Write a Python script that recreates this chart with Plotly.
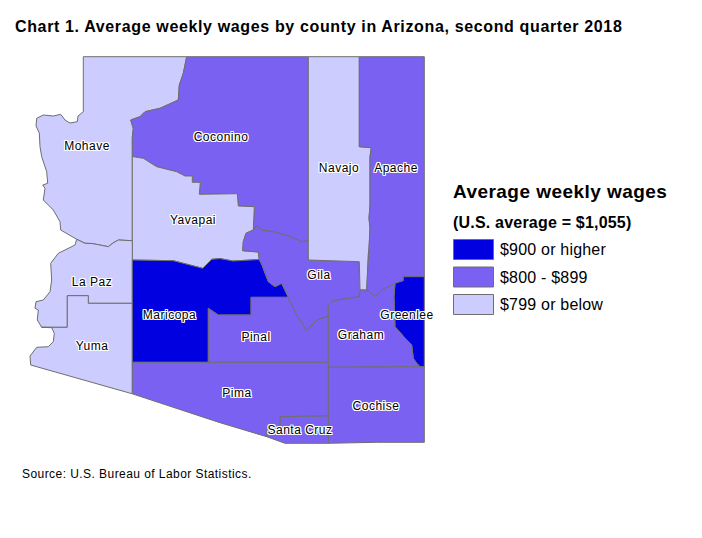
import plotly.graph_objects as go

mohave_lapaz = [(76.7,239.3),(78.3,240),(85,243.3),(92,243.5),(100,245),(108.3,246.7),(113,243),(118.3,240),(132.3,240.7)]
coconino_west = [(132.3,156.5),(132.3,137.3),(133.3,128.3),(130.7,120),(140,116.7),(145,111.7),(160,108.3),(170,104),(178.3,100),(179.3,85),(183.3,73.3),(186.7,56.7)]
yavapai_north = [(132.3,156.5),(143.3,158.3),(156.7,166.7),(176.7,171.7),(185,176),(192.3,176),(192.3,182.3),(200.3,182.3),(199.3,194.3),(237.3,193.7),(238.3,206),(254.3,206.7),(253.3,230)]
yavapai_gila = [(253.3,230),(246,233.3),(243.3,241.7),(242.7,250.7),(258.3,252),(259.3,259.5)]
yavapai_maricopa = [(132.3,260),(173.3,260.7),(202.7,268.3),(211.7,259.3),(220,258.6),(233,261),(259.3,259.5)]
coconino_gila = [(253.3,230),(256.7,226),(261.7,230),(273.3,231.7),(288.3,236),(301.7,241.7),(308.3,240.7)]
gila_maricopa = [(259.3,259.5),(262,265),(265,273.3),(268.3,281.7),(275,286.7),(281.7,283.3),(288.3,297.3)]
gila_pinal = [(288.3,297.3),(295,311.7),(306.7,330.7),(316.7,320),(328.3,316)]
gila_graham = [(328.3,316),(328.3,305),(333.3,300.7),(348.3,298.3),(359.3,296.7)]
navajo_east = [(359.3,146.7),(371.3,147.7),(370,156.7),(370,205),(369,218.3),(370,228.3),(369,250),(368.3,253.3),(366.7,290)]
apache_graham = [(366.7,290),(375,296.7),(381.7,290),(395,283.3)]
greenlee_graham = [(395,283.3),(394,296.7),(395,326.7),(406.7,340),(411.7,345),(413.3,358.3),(416.7,363.3),(420,366.7)]

mohave = [(83.3,56.7),(83.3,111.7),(78,116),(77.3,121.7),(70,123),(65,120),(60.7,114.3),(53.3,116),(43.3,115),(36.7,118.3),(36,126),(39.3,133),(40,146.7),(41.7,156.7),(46.7,171.7),(47.7,183.3),(42.7,185),(45,188.3),(43.3,200),(53.3,210),(60,221.7),(60.7,230)] + mohave_lapaz + coconino_west
coconino = coconino_west + [(308.3,56.7),(308.3,240.7)] + coconino_gila[::-1] + yavapai_north[::-1]
yavapai = yavapai_north + yavapai_gila + yavapai_maricopa[::-1]
lapaz = mohave_lapaz[::-1] + [(75,245),(58.3,253.3),(50.7,263.3),(51.7,280),(50,291.7),(43.3,300),(36,301.7),(35,308.3),(38.3,310),(37.3,320),(41.7,327.3),(67.3,327.3),(67.3,295.7),(88.3,295.7),(88.3,303.3),(132.3,303.3)]
yuma = [(41.7,327.3),(51.7,327.7),(54.3,333.3),(53.3,341.7),(48.3,346.7),(36.7,347.3),(30,356),(30.7,365),(132.3,393.8),(132.3,303.3),(88.3,303.3),(88.3,295.7),(67.3,295.7),(67.3,327.3)]
maricopa = yavapai_maricopa + gila_maricopa + [(251,297.3),(251,315),(218.3,315),(208.3,308.3),(208.3,362.3),(132.3,362.3)]
pinal = gila_pinal + [(328.3,362.3),(208.3,362.3),(208.3,308.3),(218.3,315),(251,315),(251,297.3)]
gila = yavapai_gila + gila_maricopa + gila_pinal + gila_graham + [(359.3,261.7),(308.3,260),(308.3,240.7)] + coconino_gila[::-1]
navajo = [(308.3,56.7),(359.3,56.7)] + navajo_east + [(360,290),(359.3,261.7),(308.3,260)]
apache = [(359.3,56.7),(424.3,56.7),(424.3,276.7),(403.3,276.7),(403.3,280.7)] + apache_graham[::-1] + navajo_east[::-1]
greenlee = [(403.3,276.7),(424.3,276.7),(424.3,366.7)] + greenlee_graham[::-1] + [(403.3,280.7)]
graham = gila_graham[::-1] + [(328.3,367.3),(420,366.7)] + greenlee_graham[::-1] + apache_graham[::-1] + [(360,290)]
cochise = [(328.3,367.3),(424.3,366.7),(424.3,442.3),(376.7,442.3),(328.3,443.3)]
santa_cruz = [(280,416.7),(328.3,415.7),(328.3,443.3),(285,443.3),(266.7,436.7),(266.7,429),(280,426)]
pima = [(132.3,362.3),(328.3,362.3),(328.3,415.7),(280,416.7),(280,426),(266.7,429),(266.7,436.7),(220,422.7),(132.3,393.8)]

county_names = ["Mohave","Coconino","Yavapai","La Paz","Yuma","Maricopa","Pinal","Gila","Navajo","Apache","Greenlee","Graham","Cochise","Santa Cruz","Pima"]
county_shapes = [mohave,coconino,yavapai,lapaz,yuma,maricopa,pinal,gila,navajo,apache,greenlee,graham,cochise,santa_cruz,pima]
county_class = [2,1,2,2,2,0,1,1,2,1,0,1,1,1,1]
label_x = [87,221,193,92,92,169.5,256,319,339,396,407,361,376,300,237]
label_y = [147,138,220.5,282.5,347,316,337.5,276,168.5,168.5,316,336,407,430.5,393.5]

class_names = ["$900 or higher","$800 - $899","$799 or below"]
class_colors = ["#0000E1","#7B61F2","#CCCCFF"]
border = "#6E6E6E"
halo = "1px 0 0 #fff,-1px 0 0 #fff,0 1px 0 #fff,0 -1px 0 #fff,1px 1px 0 #fff,-1px -1px 0 #fff,1px -1px 0 #fff,-1px 1px 0 #fff"


def spaced(text, px):
    return '<span style="letter-spacing:%spx">%s</span>' % (px, text)


fig = go.Figure()
for name, shape, c in zip(county_names, county_shapes, county_class):
    fig.add_trace(go.Scatter(x=[p[0] for p in shape]+[shape[0][0]], y=[p[1] for p in shape]+[shape[0][1]],
                             mode="lines", fill="toself", fillcolor=class_colors[c],
                             line=dict(color=border, width=1), name=name, hoverinfo="name"))

fig.add_trace(go.Scatter(x=label_x, y=label_y, mode="text", text=[spaced(n, 0.5) for n in county_names],
                         textfont=dict(family="Liberation Sans", size=12, color="black", shadow=halo),
                         hoverinfo="skip"))

# legend is drawn by hand, the swatches are wider than plotly's own
swatch_top = [239.5, 267, 294.5]
for name, color, top in zip(class_names, class_colors, swatch_top):
    fig.add_shape(type="rect", x0=453.5, x1=493.5, y0=top, y1=top+20, fillcolor=color,
                  line=dict(color=border, width=1))
    fig.add_annotation(x=498, y=top+10, text=spaced(name, 0.2), showarrow=False, xanchor="left",
                       font=dict(family="Liberation Sans", size=16, color="black"))

fig.add_annotation(x=13, y=26, text="<b>" + spaced("Chart 1. Average weekly wages by county in Arizona, second quarter 2018", 0.64) + "</b>",
                   showarrow=False, xanchor="left", font=dict(family="Liberation Sans", size=16, color="black"))
fig.add_annotation(x=451, y=191, text="<b>" + spaced("Average weekly wages", 0.45) + "</b>", showarrow=False, xanchor="left",
                   font=dict(family="Liberation Sans", size=19, color="black"))
fig.add_annotation(x=451, y=222, text="<b>" + spaced("(U.S. average = $1,055)", 0.2) + "</b>", showarrow=False, xanchor="left",
                   font=dict(family="Liberation Sans", size=16, color="black"))
fig.add_annotation(x=20, y=474, text=spaced("Source: U.S. Bureau of Labor Statistics.", 0.44), showarrow=False, xanchor="left",
                   font=dict(family="Liberation Sans", size=12, color="black"))

fig.update_xaxes(range=[0,702], visible=False, fixedrange=True)
fig.update_yaxes(range=[538,0], visible=False, fixedrange=True)
fig.update_layout(width=702, height=538, margin=dict(l=0,r=0,t=0,b=0), showlegend=False,
                  plot_bgcolor="white", paper_bgcolor="white")
fig.write_html("out.html", config={"displayModeBar": False}, post_script="document.body.style.margin='0';")
